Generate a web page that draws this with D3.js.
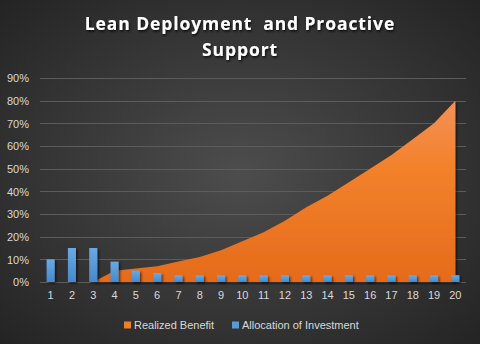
<!DOCTYPE html>
<html>
<head>
<meta charset="utf-8">
<script src="https://cdn.jsdelivr.net/npm/d3@7"></script>
<style>
  html, body { margin: 0; padding: 0; background: #2b2b2b; }
  svg { display: block; }
</style>
</head>
<body>
<div id="chart"></div>
<script>
// Periods 1..20
const periods = d3.range(1, 21).map(String);
// Realized Benefit (share, starting in period 3)
const benefit = [null, null, 0, 0.05, 0.06, 0.07, 0.09, 0.11, 0.14, 0.18, 0.22, 0.27, 0.33, 0.38, 0.44, 0.50, 0.56, 0.63, 0.70, 0.80];
// Allocation of Investment
const investment = [0.10, 0.15, 0.15, 0.09, 0.05, 0.04, 0.03, 0.03, 0.03, 0.03, 0.03, 0.03, 0.03, 0.03, 0.03, 0.03, 0.03, 0.03, 0.03, 0.03];
const yTicks = [0, 0.1, 0.2, 0.3, 0.4, 0.5, 0.6, 0.7, 0.8, 0.9];
const titleLines = ["Lean Deployment  and Proactive", "Support"];
const seriesNames = ["Realized Benefit", "Allocation of Investment"];

const W = 480, H = 344;
const margin = { left: 40, right: 14, top: 78, bottom: 62 };

const svg = d3.select("#chart").append("svg").attr("width", W).attr("height", H);
const defs = svg.append("defs");

const bg = defs.append("radialGradient").attr("id", "bg")
  .attr("cx", "50%").attr("cy", "50%").attr("r", "70%");
bg.append("stop").attr("offset", "0%").attr("stop-color", "#4d4d4d");
bg.append("stop").attr("offset", "100%").attr("stop-color", "#242424");

const areaGrad = defs.append("linearGradient").attr("id", "areaGrad")
  .attr("x1", "0").attr("y1", "0").attr("x2", "0").attr("y2", "1");
areaGrad.append("stop").attr("offset", "0%").attr("stop-color", "#f39058");
areaGrad.append("stop").attr("offset", "35%").attr("stop-color", "#f3822c");
areaGrad.append("stop").attr("offset", "100%").attr("stop-color", "#e56b1b");

const barGrad = defs.append("linearGradient").attr("id", "barGrad")
  .attr("x1", "0").attr("y1", "0").attr("x2", "0").attr("y2", "1");
barGrad.append("stop").attr("offset", "0%").attr("stop-color", "#6aa9e3");
barGrad.append("stop").attr("offset", "100%").attr("stop-color", "#4589cc");

const shadow = defs.append("filter").attr("id", "shadow")
  .attr("x", "-20%").attr("y", "-20%").attr("width", "140%").attr("height", "140%");
shadow.append("feDropShadow").attr("dx", 1.5).attr("dy", 1.5).attr("stdDeviation", 1.2)
  .attr("flood-color", "#000").attr("flood-opacity", 0.6);

const textShadow = defs.append("filter").attr("id", "textShadow")
  .attr("x", "-10%").attr("y", "-30%").attr("width", "120%").attr("height", "160%");
textShadow.append("feDropShadow").attr("dx", 1).attr("dy", 1.5).attr("stdDeviation", 1)
  .attr("flood-color", "#000").attr("flood-opacity", 0.8);

svg.append("rect").attr("width", W).attr("height", H).attr("fill", "url(#bg)");

// Title
svg.append("g").attr("filter", "url(#textShadow)")
  .selectAll("text").data(titleLines).join("text")
  .attr("x", W / 2)
  .attr("y", (d, i) => 30 + i * 26)
  .attr("text-anchor", "middle")
  .attr("font-family", "'Open Sans', sans-serif")
  .attr("font-weight", 700)
  .attr("font-size", 17.5)
  .attr("letter-spacing", 0.9)
  .attr("fill", "#ffffff")
  .style("white-space", "pre")
  .text(d => d);

const x = d3.scaleBand().domain(periods)
  .range([margin.left, W - margin.right]).paddingInner(0.62).paddingOuter(0.31);
const xPoint = d => x(d) + x.bandwidth() / 2;
const y = d3.scaleLinear().domain([0, 0.9]).range([H - margin.bottom, margin.top]);

// Gridlines
svg.append("g").selectAll("line").data(yTicks).join("line")
  .attr("x1", margin.left).attr("x2", W - margin.right)
  .attr("y1", d => Math.round(y(d)) + 0.5).attr("y2", d => Math.round(y(d)) + 0.5)
  .attr("stroke", "#5c5c5c").attr("stroke-width", 1);

// Y axis labels
const yAxis = d3.axisLeft(y).tickValues(yTicks).tickFormat(d3.format(".0%")).tickSize(0).tickPadding(0);
const gy = svg.append("g").attr("transform", `translate(${margin.left - 11},0)`).call(yAxis);
gy.select(".domain").remove();
gy.selectAll("text").attr("fill", "#d9d9d9").attr("font-size", 11)
  .attr("font-family", "'Liberation Sans', Arial, sans-serif").attr("dy", "0.35em");

// Area: Realized Benefit
const areaData = periods.map((p, i) => ({ p, v: benefit[i] })).filter(d => d.v !== null);
const area = d3.area().x(d => xPoint(d.p)).y0(y(0)).y1(d => y(d.v));
svg.append("path").datum(areaData)
  .attr("d", area).attr("fill", "url(#areaGrad)").attr("filter", "url(#shadow)");

// Bars: Allocation of Investment
svg.append("g").attr("filter", "url(#shadow)")
  .selectAll("rect").data(periods.map((p, i) => ({ p, v: investment[i] }))).join("rect")
  .attr("x", d => x(d.p)).attr("width", x.bandwidth())
  .attr("y", d => y(d.v)).attr("height", d => y(0) - y(d.v))
  .attr("fill", "url(#barGrad)");

// X axis labels
const xAxis = d3.axisBottom(x).tickSize(0).tickPadding(0);
const gx = svg.append("g").attr("transform", `translate(0,${y(0) + 9})`).call(xAxis);
gx.select(".domain").remove();
gx.selectAll("text").attr("fill", "#d9d9d9").attr("font-size", 11)
  .attr("font-family", "'Liberation Sans', Arial, sans-serif").attr("dy", "0.71em");

// Legend
const legendColors = ["#f07f24", "#5b9bd5"];
const legendX = [124, 232];
const leg = svg.append("g").selectAll("g").data(seriesNames).join("g")
  .attr("transform", (d, i) => `translate(${legendX[i]},325)`);
leg.append("rect").attr("x", 0).attr("y", -3.5).attr("width", 7).attr("height", 7)
  .attr("fill", (d, i) => legendColors[i]);
leg.append("text").attr("x", 10).attr("dy", "0.35em")
  .attr("fill", "#d9d9d9").attr("font-size", 11)
  .attr("font-family", "'Liberation Sans', Arial, sans-serif")
  .text(d => d);
</script>
</body>
</html>
